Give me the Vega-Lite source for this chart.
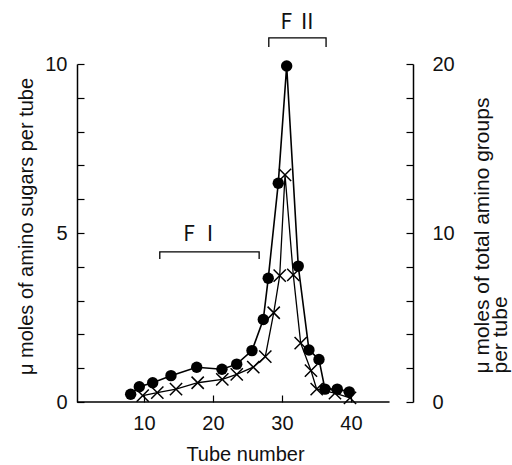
{
  "$schema": "https://vega.github.io/schema/vega-lite/v6.json",
  "width": 336,
  "height": 338,
  "autosize": {"type": "none"},
  "padding": {"left": 77, "top": 64, "right": 99, "bottom": 63},
  "background": "white",
  "config": {
    "view": {"stroke": null},
    "font": "Liberation Sans",
    "axis": {
      "domainColor": "black",
      "tickColor": "black",
      "labelColor": "#111",
      "titleColor": "#111",
      "labelFont": "Liberation Sans",
      "titleFont": "Liberation Sans",
      "labelFontSize": 20,
      "titleFontSize": 20,
      "titleFontWeight": "normal",
      "grid": false,
      "domainWidth": 1.5,
      "tickWidth": 1.2
    }
  },
  "datasets": {
    "sugars": [
      {"x": 8.08, "y": 0.23}, {"x": 9.33, "y": 0.45}, {"x": 11.27, "y": 0.57},
      {"x": 13.92, "y": 0.78}, {"x": 17.65, "y": 1.03}, {"x": 21.31, "y": 0.97},
      {"x": 23.45, "y": 1.12}, {"x": 25.66, "y": 1.52}, {"x": 27.3, "y": 2.44},
      {"x": 28.02, "y": 3.66}, {"x": 29.47, "y": 6.47}, {"x": 30.69, "y": 9.94},
      {"x": 32.37, "y": 4.02}, {"x": 33.92, "y": 1.54}, {"x": 35.37, "y": 1.26},
      {"x": 36.24, "y": 0.38}, {"x": 38.02, "y": 0.38}, {"x": 39.76, "y": 0.3}
    ],
    "total": [
      {"x": 9.82, "y": 0.38}, {"x": 11.94, "y": 0.56}, {"x": 14.65, "y": 0.76},
      {"x": 17.79, "y": 1.14}, {"x": 21.36, "y": 1.34}, {"x": 23.45, "y": 1.64},
      {"x": 25.85, "y": 2.06}, {"x": 27.59, "y": 2.68}, {"x": 28.81, "y": 5.28},
      {"x": 29.68, "y": 7.48}, {"x": 30.45, "y": 13.44}, {"x": 31.65, "y": 7.52},
      {"x": 32.72, "y": 3.48}, {"x": 34.21, "y": 1.86}, {"x": 35.04, "y": 0.76},
      {"x": 37.69, "y": 0.52}, {"x": 39.87, "y": 0.24}
    ],
    "brackets": [
      {"g": "FI", "o": 1, "x": 12.3, "y": 4.23}, {"g": "FI", "o": 2, "x": 12.3, "y": 4.44},
      {"g": "FI", "o": 3, "x": 26.7, "y": 4.44}, {"g": "FI", "o": 4, "x": 26.7, "y": 4.23},
      {"g": "FII", "o": 1, "x": 28.1, "y": 10.5}, {"g": "FII", "o": 2, "x": 28.1, "y": 10.77},
      {"g": "FII", "o": 3, "x": 36.4, "y": 10.77}, {"g": "FII", "o": 4, "x": 36.4, "y": 10.5}
    ],
    "labels": [
      {"label": "F Ⅰ", "x": 18.4, "y": 4.94},
      {"label": "F Ⅱ", "x": 32.5, "y": 11.21}
    ],
    "baseline": [{"x": 0.3, "x2": 45.6, "y": 0}]
  },
  "encoding": {
    "x": {
      "field": "x", "type": "quantitative",
      "scale": {"domain": [0.3, 49], "nice": false, "zero": false},
      "axis": {
        "values": [10, 20, 30, 40],
        "domain": false,
        "tickSize": -7,
        "labelPadding": 18,
        "title": "Tube number",
        "titleX": 168,
        "titleY": 58,
        "titleAlign": "center",
        "titleBaseline": "alphabetic"
      }
    }
  },
  "layer": [
    {
      "encoding": {
        "y": {
          "field": "y", "type": "quantitative",
          "scale": {"domain": [0, 10], "nice": false},
          "axis": {
            "orient": "left",
            "values": [0, 1, 2, 3, 4, 5, 6, 7, 8, 9, 10],
            "labelExpr": "datum.value % 5 === 0 ? datum.label : ''",
            "tickSize": -7,
            "labelPadding": 17,
            "title": "μ moles of amino sugars per tube",
            "titleAngle": -90,
            "titleX": -51,
            "titleY": 162,
            "titleAlign": "center",
            "titleBaseline": "middle"
          }
        }
      },
      "layer": [
        {"data": {"name": "baseline"}, "mark": {"type": "rule", "color": "black", "strokeWidth": 1.5}, "encoding": {"x2": {"field": "x2"}}},
        {"data": {"name": "brackets"}, "mark": {"type": "line", "color": "black", "strokeWidth": 1.3}, "encoding": {"detail": {"field": "g"}, "order": {"field": "o"}}},
        {"data": {"name": "labels"}, "mark": {"type": "text", "font": "Noto Sans CJK JP", "fontSize": 21, "color": "#111", "baseline": "middle", "align": "center"}, "encoding": {"text": {"field": "label"}}},
        {"data": {"name": "sugars"}, "mark": {"type": "line", "color": "black", "strokeWidth": 1.6}},
        {"data": {"name": "sugars"}, "mark": {"type": "point", "shape": "circle", "filled": true, "color": "black", "size": 130, "opacity": 1}}
      ]
    },
    {
      "data": {"name": "total"},
      "encoding": {
        "y": {
          "field": "y", "type": "quantitative",
          "scale": {"domain": [0, 20], "nice": false},
          "axis": {
            "orient": "right",
            "values": [0, 2, 4, 6, 8, 10, 12, 14, 16, 18, 20],
            "labelExpr": "datum.value % 10 === 0 ? datum.label : ''",
            "tickSize": -7,
            "labelPadding": 26,
            "title": ["μ moles of total amino groups", "per tube"],
            "titleFontSize": 21,
            "titleAngle": -90,
            "titleX": 75,
            "titleY": 309,
            "titleAlign": "left",
            "titleBaseline": "alphabetic",
            "titleLineHeight": 18
          }
        }
      },
      "layer": [
        {"mark": {"type": "line", "color": "black", "strokeWidth": 1.3}},
        {"mark": {"type": "point", "shape": "M-1,-1L1,1M-1,1L1,-1", "filled": false, "color": "black", "strokeWidth": 1.5, "size": 150, "opacity": 1}}
      ]
    }
  ],
  "resolve": {"scale": {"y": "independent"}}
}
